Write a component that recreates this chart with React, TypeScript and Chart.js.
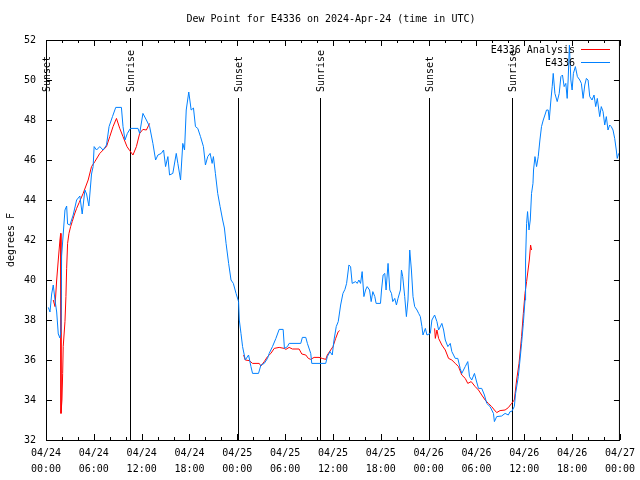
import React, { useEffect, useRef } from "react";
import { Chart, registerables } from "chart.js";

Chart.register(...registerables);

const TITLE = "Dew Point for E4336 on 2024-Apr-24 (time in UTC)";
const Y_LABEL = "degrees F";
const SERIES_RED = "E4336 Analysis";
const SERIES_BLUE = "E4336";

// hours since 04/24 00:00 UTC
const blueHours = [
  0.29, 0.5, 0.71, 0.91, 1.13, 1.34, 1.54, 1.75, 1.88, 1.96, 2.16, 2.38, 2.59, 2.71, 3.0, 3.41, 3.84, 4.25, 4.54, 4.88,
  5.09, 5.38, 5.71, 5.91, 6.04, 6.34, 6.75, 7.16, 7.59, 7.91, 8.34, 8.75, 9.46, 9.66, 9.91, 10.21, 10.59, 11.54, 11.75,
  12.16, 12.59, 13.0, 13.41, 13.75, 14.04, 14.46, 14.75, 15.0, 15.29, 15.5, 15.91, 16.34, 16.54, 16.88, 17.16, 17.38,
  17.59, 17.91, 18.21, 18.5, 18.75, 19.04, 19.38, 19.75, 20.0, 20.29, 20.59, 20.84, 21.0, 21.25, 21.54, 21.84, 22.16,
  22.38, 22.59, 22.91, 23.21, 23.5, 23.84, 24.16, 24.25, 24.46, 24.66, 25.0, 25.41, 25.71, 25.91, 26.66, 26.96, 27.38,
  27.79, 28.0, 28.41, 28.84, 29.25, 29.75, 29.91, 30.29, 30.5, 31.96, 32.16, 32.59, 32.79, 33.21, 33.34, 35.09, 35.29,
  35.63, 35.91, 36.13, 36.41, 36.66, 36.96, 37.25, 37.5, 37.71, 38.0, 38.21, 38.41, 38.84, 39.04, 39.25, 39.46, 39.66,
  39.88, 40.09, 40.29, 40.59, 40.79, 41.0, 41.25, 41.41, 41.96, 42.09, 42.29, 42.5, 42.66, 42.91, 43.13, 43.34, 43.5,
  43.75, 43.96, 44.16, 44.46, 44.59, 44.75, 45.0, 45.21, 45.41, 45.63, 45.84, 46.04, 46.25, 46.54, 46.75, 46.96, 47.16,
  47.29, 47.59, 47.79, 48.21, 48.41, 48.75, 49.04, 49.25, 49.66, 49.88, 50.09, 50.41, 50.71, 50.91, 51.34, 51.66, 51.96,
  52.16, 52.59, 52.91, 53.13, 53.41, 53.75, 53.96, 54.25, 54.66, 55.0, 55.29, 55.71, 56.13, 56.25, 56.54, 57.16, 57.59,
  58.0, 58.21, 58.41, 58.75, 58.91, 59.25, 59.46, 59.66, 59.88, 60.09, 60.16, 60.29, 60.41, 60.59, 60.75, 60.91, 61.09,
  61.16, 61.34, 61.54, 61.75, 61.96, 62.16, 62.38, 62.59, 62.79, 63.0, 63.13, 63.34, 63.5, 63.63, 63.84, 64.13, 64.38,
  64.59, 64.79, 65.0, 65.21, 65.38, 65.5, 65.66, 65.84, 66.0, 66.16, 66.41, 66.66, 66.96, 67.16, 67.38, 67.59, 67.79,
  68.0, 68.21, 68.5, 68.75, 68.96, 69.16, 69.46, 69.66, 69.88, 70.09, 70.29, 70.5, 70.71, 70.91, 71.13, 71.34, 71.54,
  71.66, 71.84,
];
const blueValues = [
  38.63, 38.4, 39.3, 39.75, 39.0, 38.4, 37.3, 37.1, 37.5, 41.2, 42.3, 43.5, 43.7, 42.8, 42.75, 43.25, 44.0, 44.2, 43.3,
  44.5, 44.3, 43.7, 45.3, 45.67, 46.67, 46.5, 46.67, 46.5, 46.75, 47.67, 48.17, 48.63, 48.63, 47.67, 47.0, 47.33, 47.58,
  47.58, 47.33, 48.33, 48.0, 47.67, 46.83, 46.0, 46.25, 46.33, 46.5, 45.67, 46.17, 45.25, 45.33, 46.33, 45.83, 45.0,
  46.83, 46.5, 48.5, 49.4, 48.5, 48.6, 47.67, 47.58, 47.17, 46.67, 45.75, 46.17, 46.33, 45.83, 46.17, 45.33, 44.33,
  43.67, 43.0, 42.6, 41.83, 40.83, 40.0, 39.83, 39.33, 38.92, 38.0, 37.33, 36.67, 36.0, 36.25, 35.67, 35.33, 35.33,
  35.75, 35.83, 36.08, 36.33, 36.67, 37.08, 37.53, 37.53, 36.58, 36.67, 36.83, 36.83, 37.13, 37.13, 36.83, 36.33, 35.83,
  35.83, 36.17, 36.42, 36.25, 37.0, 37.67, 37.92, 38.75, 39.33, 39.53, 39.83, 40.75, 40.67, 39.83, 39.92, 39.83, 40.0,
  39.83, 40.42, 39.17, 39.5, 39.67, 39.5, 38.92, 39.42, 39.17, 38.83, 38.83, 39.5, 40.25, 40.33, 39.5, 40.83, 39.5,
  39.33, 38.92, 39.08, 38.75, 39.08, 39.5, 40.5, 40.17, 39.17, 38.17, 39.0, 41.5, 40.5, 39.17, 38.67, 38.5, 38.33,
  38.17, 37.67, 37.25, 37.58, 37.25, 37.33, 38.0, 38.25, 37.92, 37.5, 37.83, 37.5, 37.0, 36.67, 36.83, 36.42, 36.08,
  36.08, 35.58, 35.33, 35.67, 35.92, 35.17, 35.0, 35.33, 35.0, 34.58, 34.58, 34.25, 33.83, 33.67, 33.33, 32.92, 33.17,
  33.2, 33.33, 33.25, 33.42, 33.42, 33.67, 34.33, 35.17, 36.0, 36.83, 37.83, 39.0, 41.0, 42.83, 43.42, 42.5, 43.0,
  44.33, 44.83, 45.5, 46.17, 45.67, 46.17, 47.0, 47.67, 48.0, 48.25, 48.5, 48.5, 48.0, 49.0, 49.67, 50.33, 49.33, 48.92,
  49.33, 50.17, 50.25, 49.67, 49.83, 49.08, 50.0, 51.75, 50.0, 49.5, 50.33, 50.67, 50.17, 50.0, 49.83, 49.08, 49.75,
  50.08, 50.0, 49.17, 49.0, 49.25, 48.67, 49.08, 48.17, 48.67, 48.42, 47.75, 48.17, 47.5, 47.75, 47.67, 47.5, 47.08,
  46.5, 46.08, 46.33,
];

// null marks a gap in the analysis series
const redHours = [
  0.91, 1.13, 1.34, 1.54, 1.75, 1.84, 1.88, 2.0, 2.09, 2.16, 2.38, 2.5, 2.59, 2.71, 2.88, 3.09, 3.29, 3.54, 3.84, 4.16,
  4.66, 5.29, 5.71, 6.13, 6.75, 7.59, 8.0, 8.41, 8.84, 9.25, 9.66, 10.16, 10.5, 10.91, 11.34, 11.75, 12.16, 12.59, 13.0,
  18.0,
  24.79, 25.0, 25.5, 25.91, 26.75, 26.96, 27.38, 27.79, 28.21, 28.63, 29.25, 29.88, 30.09, 30.5, 30.91, 31.75, 32.09,
  32.59, 32.91, 33.21, 33.63, 34.25, 34.66, 35.09, 35.29, 35.71, 36.0, 36.34, 36.66, 36.84,
  42.0,
  48.75, 48.84, 49.04, 49.25, 49.66, 50.09, 50.5, 50.91, 51.34, 51.75, 52.16, 52.59, 52.91, 53.34, 53.84, 54.25, 54.66,
  55.09, 55.5, 55.91, 56.25, 56.54, 56.96, 57.59, 58.0, 58.41, 58.75, 59.04, 59.34, 59.66, 59.88, 60.09, 60.29, 60.63,
  60.79, 60.91,
];
const redValues = [
  39.0, 38.67, 40.0, 41.0, 42.0, 42.33, 33.33, 34.0, 35.33, 36.67, 37.92, 39.17, 40.58, 41.83, 42.33, 42.67, 42.92,
  43.25, 43.58, 43.87, 44.33, 45.0, 45.67, 45.92, 46.33, 46.67, 47.17, 47.67, 48.08, 47.58, 47.17, 46.67, 46.47, 46.25,
  46.67, 47.33, 47.53, 47.5, 47.83,
  null,
  36.25, 36.0, 35.97, 35.83, 35.83, 35.7, 35.92, 36.17, 36.33, 36.58, 36.63, 36.58, 36.53, 36.63, 36.55, 36.55, 36.3,
  36.25, 36.08, 36.03, 36.13, 36.13, 36.08, 36.03, 36.25, 36.5, 36.67, 37.08, 37.42, 37.47,
  null,
  37.58, 37.08, 37.5, 37.08, 36.75, 36.5, 36.08, 36.0, 35.83, 35.67, 35.25, 35.08, 34.83, 34.92, 34.67, 34.5, 34.25,
  34.0, 33.83, 33.67, 33.5, 33.37, 33.47, 33.5, 33.62, 33.83, 34.0, 35.0, 35.83, 37.17, 38.33, 39.33, 39.92, 41.0,
  41.75, 41.5,
];

const sunHours = [0.04, 10.54, 24.04, 34.42, 48.08, 58.42];
const sunLabels = ["Sunset", "Sunrise", "Sunset", "Sunrise", "Sunset", "Sunrise"];

const xTickDates = ["04/24", "04/24", "04/24", "04/24", "04/25", "04/25", "04/25", "04/25", "04/26", "04/26", "04/26", "04/26", "04/27"];
const xTickTimes = ["00:00", "06:00", "12:00", "18:00", "00:00", "06:00", "12:00", "18:00", "00:00", "06:00", "12:00", "18:00", "00:00"];

const X_MIN = 0;
const X_MAX = 72;
const Y_MIN = 32;
const Y_MAX = 52;

const FONT = "'DejaVu Sans Mono', 'Liberation Mono', monospace";
const RED = "#ff0000";
const BLUE = "#0080ff";

const decorPlugin = {
  id: "decor",
  beforeDatasetsDraw(chart: any) {
    const ctx = chart.ctx;
    const xs = chart.scales.x;
    const ca = chart.chartArea;
    ctx.save();
    ctx.strokeStyle = "#000";
    ctx.lineWidth = 1;
    ctx.fillStyle = "#000";
    ctx.font = `10px ${FONT}`;
    sunHours.forEach((h, i) => {
      const px = Math.round(xs.getPixelForValue(h)) + 0.5;
      ctx.beginPath();
      ctx.moveTo(px, 98);
      ctx.lineTo(px, ca.bottom);
      ctx.stroke();
      ctx.save();
      ctx.translate(px + 1, 92);
      ctx.rotate(-Math.PI / 2);
      ctx.textAlign = "left";
      ctx.textBaseline = "middle";
      ctx.fillText(sunLabels[i], 0, 0);
      ctx.restore();
    });
    ctx.restore();
  },
  afterDatasetsDraw(chart: any) {
    const ctx = chart.ctx;
    const xs = chart.scales.x;
    const ys = chart.scales.y;
    const ca = chart.chartArea;
    ctx.save();
    ctx.strokeStyle = "#000";
    ctx.lineWidth = 1;
    // frame
    ctx.strokeRect(ca.left + 0.5, ca.top + 0.5, ca.right - ca.left - 1, ca.bottom - ca.top);
    // x ticks (inside, bottom and top), minor every 2h
    ctx.beginPath();
    for (let h = X_MIN; h <= X_MAX; h += 2) {
      const major = h % 6 === 0;
      const len = major ? 6 : 3;
      const px = Math.round(xs.getPixelForValue(h)) + 0.5;
      ctx.moveTo(px, ca.bottom);
      ctx.lineTo(px, ca.bottom - len);
      ctx.moveTo(px, ca.top);
      ctx.lineTo(px, ca.top + len);
    }
    // y ticks (inside, left and right)
    ys.ticks.forEach((t: any) => {
      const py = Math.round(ys.getPixelForValue(t.value)) + 0.5;
      ctx.moveTo(ca.left, py);
      ctx.lineTo(ca.left + 6, py);
      ctx.moveTo(ca.right, py);
      ctx.lineTo(ca.right - 6, py);
    });
    ctx.stroke();

    // title
    ctx.fillStyle = "#000";
    ctx.font = `10px ${FONT}`;
    ctx.textAlign = "center";
    ctx.textBaseline = "middle";
    ctx.fillText(TITLE, 331, 19);

    // legend
    ctx.textAlign = "right";
    ctx.fillText(SERIES_RED, 575, 50);
    ctx.fillText(SERIES_BLUE, 575, 63);
    ctx.strokeStyle = RED;
    ctx.beginPath();
    ctx.moveTo(581, 49.5);
    ctx.lineTo(610, 49.5);
    ctx.stroke();
    ctx.strokeStyle = BLUE;
    ctx.beginPath();
    ctx.moveTo(581, 62.5);
    ctx.lineTo(610, 62.5);
    ctx.stroke();
    ctx.restore();
  },
};

export default function App() {
  const ref = useRef<HTMLCanvasElement | null>(null);

  useEffect(() => {
    if (!ref.current) return;
    const blueData = blueHours.map((h, i) => ({ x: h, y: blueValues[i] }));
    const redData = redHours.map((h, i) => ({ x: h, y: redValues[i] }));
    const chart = new Chart(ref.current, {
      type: "line",
      data: {
        datasets: [
          {
            label: SERIES_BLUE,
            data: blueData,
            borderColor: BLUE,
            borderWidth: 1,
            pointRadius: 0,
            tension: 0,
            fill: false,
          },
          {
            label: SERIES_RED,
            data: redData,
            borderColor: RED,
            borderWidth: 1,
            pointRadius: 0,
            tension: 0,
            fill: false,
            spanGaps: false,
          },
        ],
      },
      options: {
        animation: false,
        responsive: false,
        devicePixelRatio: 1,
        layout: { padding: { top: 40, right: 19, left: 0, bottom: 0 } },
        plugins: {
          legend: { display: false },
          tooltip: { enabled: false },
          title: { display: false },
        },
        scales: {
          x: {
            type: "linear",
            min: X_MIN,
            max: X_MAX,
            grid: { display: false, drawTicks: false },
            border: { display: false },
            afterFit: (s: any) => {
              s.height = 40;
            },
            ticks: {
              stepSize: 6,
              autoSkip: false,
              maxRotation: 0,
              minRotation: 0,
              padding: 5,
              color: "#000",
              font: { family: FONT, size: 10, lineHeight: 1.6 },
              callback: (v: any) => {
                const i = Math.round(Number(v) / 6);
                return [xTickDates[i], xTickTimes[i]];
              },
            },
          },
          y: {
            type: "linear",
            min: Y_MIN,
            max: Y_MAX,
            grid: { display: false, drawTicks: false },
            border: { display: false },
            afterFit: (s: any) => {
              s.width = 46;
            },
            title: {
              display: true,
              text: Y_LABEL,
              color: "#000",
              font: { family: FONT, size: 10 },
              padding: { top: 5, bottom: 0 },
            },
            ticks: {
              stepSize: 2,
              padding: 10,
              color: "#000",
              font: { family: FONT, size: 10 },
            },
          },
        },
      },
      plugins: [decorPlugin],
    });
    return () => chart.destroy();
  }, []);

  return (
    <div style={{ position: "absolute", left: 0, top: 0, width: 640, height: 480, background: "#fff" }}>
      <canvas ref={ref} width={640} height={480} style={{ display: "block", width: 640, height: 480 }} />
    </div>
  );
}
